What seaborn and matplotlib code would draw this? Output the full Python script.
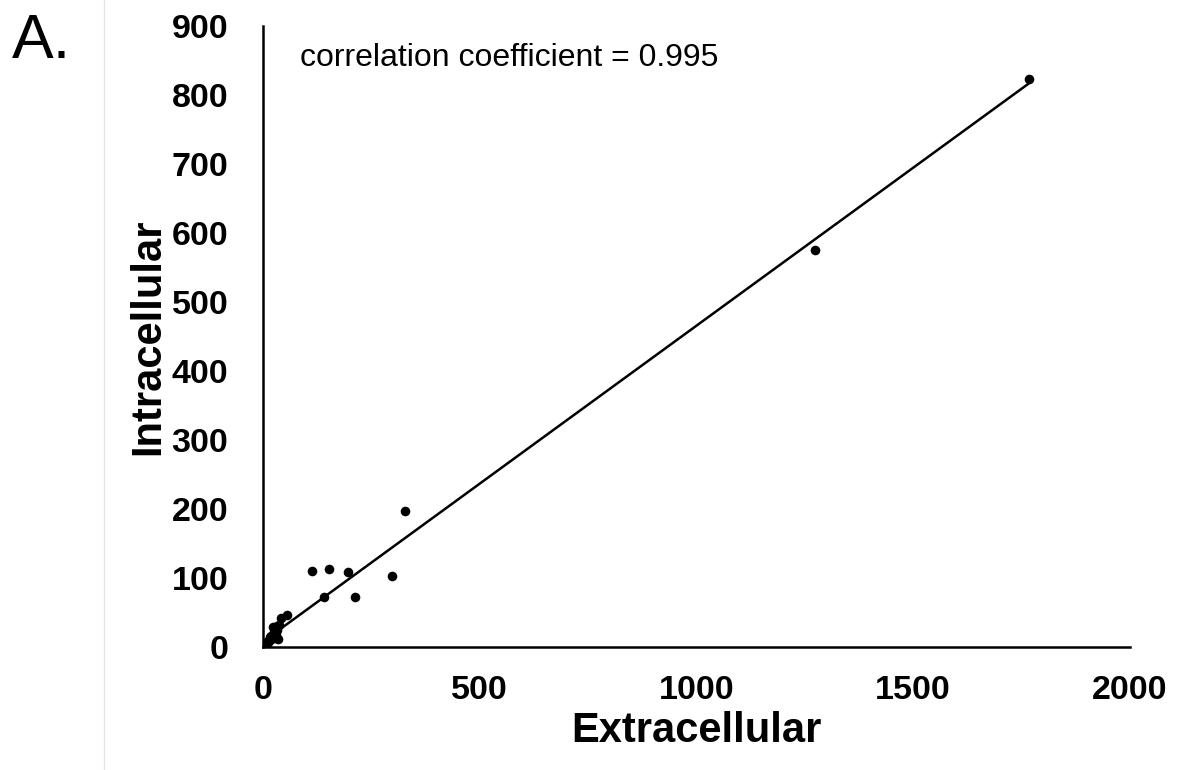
# %%
# Intracellular vs extracellular scatter with linear trendline
import numpy as np
import pandas as pd
import matplotlib.pyplot as plt
import seaborn as sns
from matplotlib.lines import Line2D

# values
extracellular = [0, 1, 2, 3, 3, 5, 6, 7, 8, 9, 10, 12, 13, 15, 16, 18, 19, 20,
                 22, 24, 25, 26, 27, 28, 30, 30, 32, 33, 35, 38, 41, 56,
                 114, 140, 152, 195, 212, 298, 327, 1273, 1766]
intracellular = [0, 1, 1, 2, 3, 3, 4, 5, 5, 8, 6, 8, 9, 10, 14, 12, 16, 14,
                 18, 29, 22, 13, 26, 20, 25, 18, 24, 30, 12, 32, 42, 46,
                 110, 72, 113, 109, 73, 103, 197, 575, 823]
x_ticks = [0, 500, 1000, 1500, 2000]
y_ticks = [0, 100, 200, 300, 400, 500, 600, 700, 800, 900]
corr_text = "correlation coefficient = 0.995"

df = pd.DataFrame({'Extracellular': extracellular, 'Intracellular': intracellular})

# %%
sns.set_theme(style="white")
plt.rcParams['font.family'] = ['Liberation Sans', 'DejaVu Sans']
plt.rcParams['text.color'] = 'black'
plt.rcParams['axes.labelcolor'] = 'black'

fig = plt.figure(figsize=(11.82, 7.7), dpi=100)
ax = fig.add_axes([0.2225, 0.1597, 0.7335, 0.8066])

sns.regplot(data=df, x='Extracellular', y='Intracellular', ax=ax, ci=None,
            truncate=True,
            scatter_kws={'s': 48, 'color': 'black', 'alpha': 1, 'linewidths': 0},
            line_kws={'color': 'black', 'linewidth': 1.8})

ax.set_xlim(0, 2000)
ax.set_ylim(0, 900)
ax.set_xticks(x_ticks)
ax.set_yticks(y_ticks)
ax.tick_params(axis='both', length=0, labelsize=24.5, colors='black')
ax.tick_params(axis='x', pad=20)
ax.tick_params(axis='y', pad=25)
for lab in ax.get_xticklabels() + ax.get_yticklabels():
    lab.set_fontweight('bold')

ax.set_xlabel('Extracellular', fontsize=30, fontweight='bold', labelpad=4, color='black')
ax.set_ylabel('Intracellular', fontsize=30, fontweight='bold', labelpad=2, color='black')

sns.despine(ax=ax)
for side in ['left', 'bottom']:
    ax.spines[side].set_color('black')
    ax.spines[side].set_linewidth(1.8)

ax.text(0.043, 0.948, corr_text, transform=ax.transAxes, fontsize=23,
        va='center', color='black')

fig.text(12 / 1182, 1 - 58 / 770, 'A.', fontsize=45, va='baseline', ha='left', color='black')
fig.add_artist(Line2D([104 / 1182, 104 / 1182], [0, 1], color='#e6e6e6', linewidth=1))

fig.savefig('out.png', dpi=100)
